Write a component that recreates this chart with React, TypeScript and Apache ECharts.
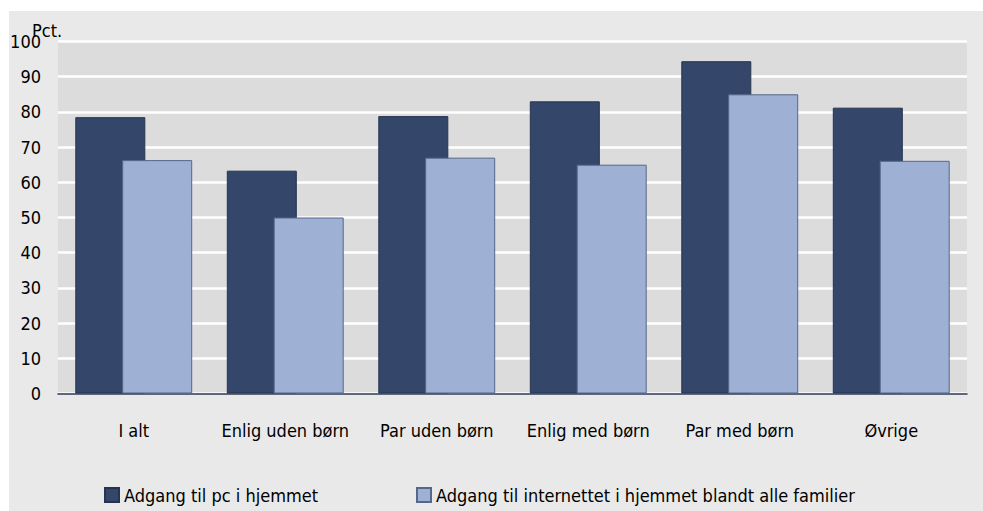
import React, { useEffect, useRef } from "react";
import * as echarts from "echarts";

const categories = ["I alt", "Enlig uden børn", "Par uden børn", "Enlig med børn", "Par med børn", "Øvrige"];
const pcValues = [78.5, 63.3, 78.8, 83.0, 94.4, 81.2];
const internetValues = [66.3, 50.0, 67.0, 65.0, 85.0, 66.1];
const seriesNames = ["Adgang til pc i hjemmet", "Adgang til internettet i hjemmet blandt alle familier"];
const yTicks = { min: 0, max: 100, interval: 10 };
const unitLabel = "Pct.";

const FONT = "'Liberation Sans Narrow', 'DejaVu Sans Condensed', sans-serif";

export default function App() {
  const ref = useRef<HTMLDivElement>(null);
  useEffect(() => {
    if (!ref.current) return;
    const chart = echarts.init(ref.current, undefined, { renderer: "svg" });
    chart.setOption({
      animation: false,
      backgroundColor: "#ffffff",
      textStyle: { fontFamily: FONT },
      graphic: [
        { type: "rect", z: -10, shape: { x: 9, y: 11, width: 974, height: 500 }, style: { fill: "#e9e9e9" } },
        { type: "rect", z: -9, shape: { x: 58, y: 41.5, width: 909, height: 352 }, style: { fill: "#dcdcdc" } },
        { type: "text", z: 10, left: 32, top: 21, style: { text: unitLabel, font: `18px ${FONT}`, fill: "#000" } },
      ],
      grid: { left: 58, right: 16, top: 41.5, bottom: 117.5, containLabel: false },
      legend: [
        {
          data: [seriesNames[0]], left: 104, top: 486, padding: 0, itemWidth: 14, itemHeight: 14, icon: "rect",
          textStyle: { fontSize: 18, color: "#000", fontFamily: FONT }, itemGap: 6,
        },
        {
          data: [seriesNames[1]], left: 416, top: 486, padding: 0, itemWidth: 14, itemHeight: 14, icon: "rect",
          textStyle: { fontSize: 18, color: "#000", fontFamily: FONT }, itemGap: 6,
        },
      ],
      xAxis: {
        type: "category",
        data: categories,
        axisLine: { lineStyle: { color: "#2b3652", width: 1.5 } },
        axisTick: { show: false },
        axisLabel: { fontSize: 18, color: "#000", margin: 28, fontFamily: FONT, interval: 0 },
      },
      yAxis: {
        type: "value",
        min: yTicks.min,
        max: yTicks.max,
        interval: yTicks.interval,
        axisLine: { show: false },
        axisTick: { show: false },
        axisLabel: { fontSize: 18, color: "#000", margin: 17, fontFamily: FONT },
        splitLine: { lineStyle: { color: "#ffffff", width: 2.5 } },
      },
      series: [
        {
          name: seriesNames[0], type: "bar", data: pcValues, barWidth: 70, barGap: "-33%",
          itemStyle: { color: "#34476a", borderColor: "#25344f", borderWidth: 1 },
        },
        {
          name: seriesNames[1], type: "bar", data: internetValues, barWidth: 70, barGap: "-33%",
          itemStyle: { color: "#9eb0d4", borderColor: "#56678a", borderWidth: 1 },
        },
      ],
    });
    return () => chart.dispose();
  }, []);
  return <div ref={ref} style={{ position: "absolute", left: 0, top: 0, width: 983, height: 511 }} />;
}
